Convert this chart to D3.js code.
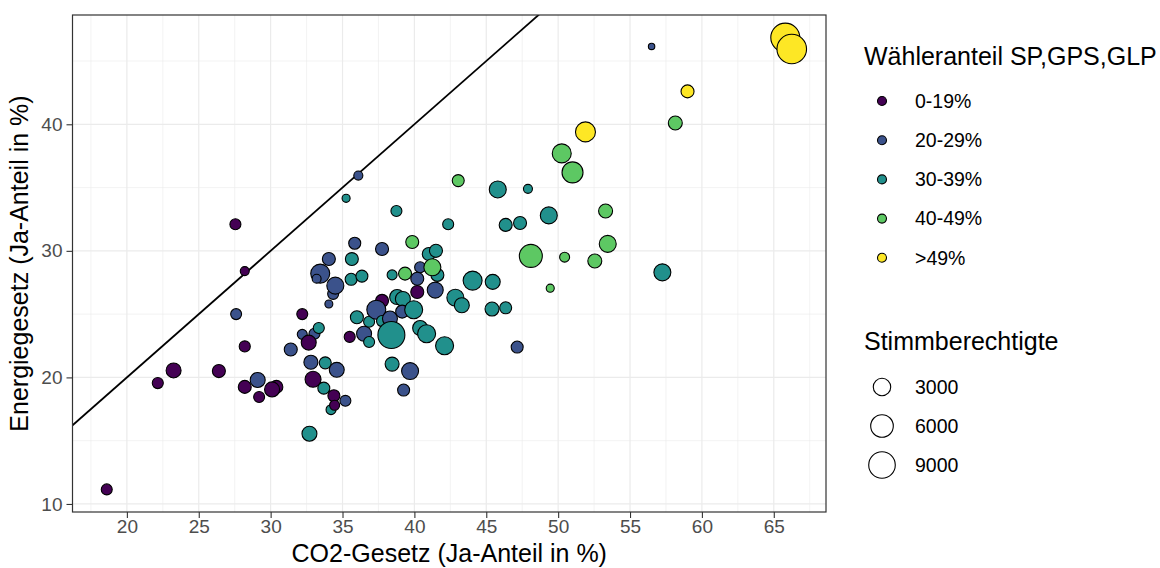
<!DOCTYPE html>
<meta charset="utf-8">
<style>
body { margin: 0; background: #fff; }
svg { font-family: "Liberation Sans", Arial, sans-serif; }
.grid-major { stroke: #ebebeb; stroke-width: 1.2; }
.grid-minor { stroke: #ebebeb; stroke-width: 0.6; }
.axis text { fill: #4d4d4d; font-size: 19px; }
.axis line { stroke: #333; stroke-width: 1.1; }
.axis path { display: none; }
.dot { stroke: #000; stroke-width: 1.1; }
.title { font-size: 25px; fill: #000; }
.legend-label { font-size: 19.5px; fill: #000; }
</style>
<svg width="1160" height="568"></svg>
<script src="https://d3js.org/d3.v7.min.js"></script>
<script>

// CO2-Gesetz Ja-Anteil (x), Energiegesetz Ja-Anteil (y), share class, eligible voters
var co2 = [18.6, 22.15, 23.25, 26.4, 27.55, 27.6, 28.2, 28.2, 28.2, 29.1,
  29.2, 30.4, 30.1, 31.4, 32.2, 32.2, 33.05, 33.35, 32.65, 32.8,
  33.8, 34.6, 32.95, 33.7, 34.2, 34.4, 35.2, 34.45, 32.7, 33.45,
  33.2, 34.05, 35.65, 34.35, 34.5, 34.05, 35.6, 36.35, 35.85, 36.1,
  35.25, 38.75, 37.75, 39.85, 35.5, 36.5, 36.85, 36.0, 36.85, 37.75,
  37.35, 37.75, 38.3, 38.4, 38.8, 39.2, 39.15, 39.95, 38.45, 39.7,
  39.25, 40.4, 40.85, 42.1, 38.45, 39.35, 40.4, 40.2, 40.2, 41.0,
  41.5, 41.6, 41.25, 41.45, 42.35, 43.05, 42.85, 43.3, 44.05, 45.45,
  45.4, 46.35, 47.15, 45.8, 47.9, 46.35, 47.35, 49.35, 48.1, 49.45,
  50.45, 52.55, 53.45, 53.3, 50.25, 51.0, 51.9, 57.25, 58.15, 59.0,
  56.5, 65.8, 66.25];

var energie = [11.15, 19.55, 20.55, 20.5, 32.1, 25.0, 28.4, 22.45, 19.25, 19.8,
  18.45, 19.25, 19.05, 22.2, 25.0, 23.4, 23.45, 23.9, 22.75, 21.2,
  21.15, 20.6, 19.85, 19.15, 17.45, 18.55, 18.15, 17.8, 15.55, 28.2,
  27.8, 29.35, 29.35, 26.6, 27.25, 25.8, 27.75, 28.0, 30.6, 35.95,
  34.15, 33.15, 30.15, 30.7, 23.2, 23.45, 22.8, 24.75, 24.4, 26.05,
  25.35, 24.45, 24.65, 23.35, 26.35, 26.2, 25.2, 25.35, 21.05, 20.5,
  19.0, 23.9, 23.45, 22.5, 28.1, 28.2, 28.7, 27.8, 26.75, 29.75,
  30.0, 28.1, 28.7, 26.9, 32.1, 35.55, 26.3, 25.7, 27.65, 27.55,
  25.4, 25.5, 22.4, 34.85, 34.9, 32.05, 32.2, 32.8, 29.6, 27.05,
  29.5, 29.2, 30.55, 33.15, 37.7, 36.2, 39.4, 28.3, 40.1, 42.6,
  46.15, 46.85, 45.95];

// 0: 0-19%, 1: 20-29%, 2: 30-39%, 3: 40-49%, 4: >49%
var shareClass = [0, 0, 0, 0, 0, 1, 0, 0, 0, 1,
  0, 0, 0, 1, 0, 1, 1, 2, 0, 1,
  2, 1, 0, 2, 2, 0, 1, 0, 2, 1,
  1, 1, 2, 1, 1, 1, 2, 2, 1, 1,
  2, 2, 1, 3, 0, 1, 2, 2, 2, 0,
  1, 2, 1, 2, 2, 2, 1, 2, 2, 1,
  1, 2, 2, 2, 2, 3, 1, 1, 0, 2,
  2, 2, 3, 1, 2, 3, 2, 2, 2, 2,
  2, 2, 1, 2, 2, 2, 2, 2, 3, 3,
  3, 3, 3, 3, 3, 3, 4, 2, 3, 4,
  1, 4, 4];

var voters = [690, 710, 1920, 1250, 700, 680, 310, 720, 1230, 1940,
  690, 1220, 1950, 1240, 690, 480, 700, 710, 1930, 1570,
  950, 1920, 2330, 940, 470, 950, 690, 490, 1920, 3790,
  300, 1240, 1230, 700, 2790, 170, 950, 940, 960, 320,
  180, 700, 1250, 1230, 700, 1930, 690, 1240, 700, 1230,
  3780, 710, 1930, 9350, 1920, 1940, 1240, 3260, 1560, 2780,
  950, 1930, 3270, 3280, 480, 1240, 700, 1230, 1240, 1230,
  1250, 1240, 2790, 2340, 700, 950, 2780, 1930, 3790, 1930,
  1560, 950, 950, 2790, 310, 1240, 1230, 2780, 6260, 180,
  480, 1560, 2780, 1570, 3790, 4950, 4350, 2780, 1560, 1240,
  40, 11130, 11700];

var classLabels = ["0-19%", "20-29%", "30-39%", "40-49%", ">49%"];
var classColors = ["#440154", "#3b528b", "#21908c", "#5dc863", "#fde725"];
var sizeBreaks = [3000, 6000, 9000];
var xTicks = [20, 25, 30, 35, 40, 45, 50, 55, 60, 65];
var yTicks = [10, 20, 30, 40];

var svg = d3.select("svg");
var panel = {left: 72.5, right: 826, top: 15, bottom: 512};

// ggplot style 5% expansion
function expand(ext) {
  var pad = (ext[1] - ext[0]) * 0.05;
  return [ext[0] - pad, ext[1] + pad];
}

var x = d3.scaleLinear().domain(expand(d3.extent(co2))).range([panel.left, panel.right]);
var y = d3.scaleLinear().domain(expand(d3.extent(energie))).range([panel.bottom, panel.top]);
var color = d3.scaleOrdinal().domain(d3.range(5)).range(classColors);
var radius = d3.scaleSqrt().domain([0, d3.max(voters)]).range([3, 15.3]);

var points = co2.map(function(d, i) {
  return {x: d, y: energie[i], c: shareClass[i], v: voters[i]};
});

// grid
var xMinor = d3.range(17.5, 68, 5), yMinor = [15, 25, 35, 45];
var grid = svg.append("g");
grid.selectAll(".vminor").data(xMinor).enter().append("line")
    .attr("class", "grid-minor")
    .attr("x1", x).attr("x2", x).attr("y1", panel.top).attr("y2", panel.bottom);
grid.selectAll(".hminor").data(yMinor).enter().append("line")
    .attr("class", "grid-minor")
    .attr("y1", y).attr("y2", y).attr("x1", panel.left).attr("x2", panel.right);
grid.selectAll(".vmajor").data(xTicks).enter().append("line")
    .attr("class", "grid-major")
    .attr("x1", x).attr("x2", x).attr("y1", panel.top).attr("y2", panel.bottom);
grid.selectAll(".hmajor").data(yTicks).enter().append("line")
    .attr("class", "grid-major")
    .attr("y1", y).attr("y2", y).attr("x1", panel.left).attr("x2", panel.right);

svg.append("clipPath").attr("id", "clip")
  .append("rect")
    .attr("x", panel.left).attr("y", panel.top)
    .attr("width", panel.right - panel.left).attr("height", panel.bottom - panel.top);

// y = x reference line
var lo = Math.min(x.domain()[0], y.domain()[0]), hi = Math.max(x.domain()[1], y.domain()[1]);
svg.append("line")
    .attr("clip-path", "url(#clip)")
    .attr("x1", x(lo)).attr("y1", y(lo))
    .attr("x2", x(hi)).attr("y2", y(hi))
    .attr("stroke", "#000").attr("stroke-width", 1.8);

svg.append("g").attr("clip-path", "url(#clip)")
  .selectAll("circle").data(points).enter().append("circle")
    .attr("class", "dot")
    .attr("cx", function(d) { return x(d.x); })
    .attr("cy", function(d) { return y(d.y); })
    .attr("r", function(d) { return radius(d.v) - 0.5; })
    .attr("fill", function(d) { return color(d.c); });

svg.append("rect")
    .attr("x", panel.left).attr("y", panel.top)
    .attr("width", panel.right - panel.left).attr("height", panel.bottom - panel.top)
    .attr("fill", "none").attr("stroke", "#333").attr("stroke-width", 1.2);

svg.append("g").attr("class", "axis")
    .attr("transform", "translate(0," + panel.bottom + ")")
    .call(d3.axisBottom(x).tickValues(xTicks).tickSize(6).tickPadding(2));

svg.append("g").attr("class", "axis")
    .attr("transform", "translate(" + panel.left + ",0)")
    .call(d3.axisLeft(y).tickValues(yTicks).tickSize(6).tickPadding(4));

svg.append("text").attr("class", "title")
    .attr("x", (panel.left + panel.right) / 2).attr("y", 562)
    .attr("text-anchor", "middle")
    .text("CO2-Gesetz (Ja-Anteil in %)");

svg.append("text").attr("class", "title")
    .attr("transform", "translate(28," + (panel.top + panel.bottom) / 2 + ") rotate(-90)")
    .attr("text-anchor", "middle")
    .text("Energiegesetz (Ja-Anteil in %)");

// colour legend
var legX = 864;
svg.append("text").attr("class", "title")
    .attr("x", legX).attr("y", 65)
    .text("Wähleranteil SP,GPS,GLP");

var colKey = svg.append("g").selectAll("g").data(classLabels).enter().append("g")
    .attr("transform", function(d, i) { return "translate(0," + (101 + i * 39.2) + ")"; });
colKey.append("circle")
    .attr("cx", 882).attr("r", 4.5)
    .attr("fill", function(d, i) { return classColors[i]; })
    .attr("stroke", "#000").attr("stroke-width", 1.1);
colKey.append("text").attr("class", "legend-label")
    .attr("x", 915).attr("dy", "0.35em")
    .text(function(d) { return d; });

// size legend
svg.append("text").attr("class", "title")
    .attr("x", legX).attr("y", 350)
    .text("Stimmberechtigte");

var sizeKey = svg.append("g").selectAll("g").data(sizeBreaks).enter().append("g")
    .attr("transform", function(d, i) { return "translate(0," + (387 + i * 39) + ")"; });
sizeKey.append("circle")
    .attr("cx", 882).attr("r", function(d) { return radius(d) - 0.5; })
    .attr("fill", "#fff").attr("stroke", "#000").attr("stroke-width", 1.1);
sizeKey.append("text").attr("class", "legend-label")
    .attr("x", 915).attr("dy", "0.35em")
    .text(function(d) { return d; });

</script>
